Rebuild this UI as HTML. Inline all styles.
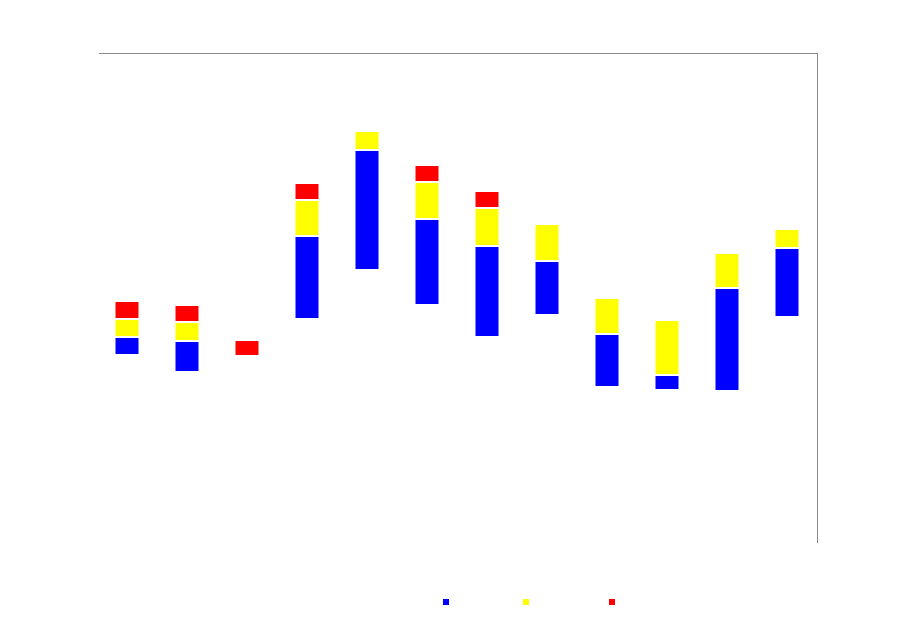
<!DOCTYPE html>
<html><head><meta charset="utf-8"><style>body{margin:0;background:#fff}svg{display:block}</style></head>
<body>
<svg id="c" width="911" height="623" xmlns="http://www.w3.org/2000/svg">
<line x1="99" y1="53.5" x2="817.5" y2="53.5" stroke="#888" stroke-width="1"/>
<line x1="817.5" y1="53" x2="817.5" y2="543" stroke="#888" stroke-width="1"/>
<g id="bars"></g>
<g>
<rect x="443" y="599" width="6" height="6" fill="#0000ff"/>
<rect x="523" y="599" width="6" height="6" fill="#ffff00"/>
<rect x="609" y="599" width="6" height="6" fill="#ff0000"/>
</g>
</svg>
<script>
const categories = ["1","2","3","4","5","6","7","8","9","10","11","12"];
const baseVals = [188,171,187,224,273,238,206,228,156,153,152,226];
const blueVals = [18,31,0,83,120,86,91,54,53,15,103,69];
const yellowVals = [18,19,0,36,19,37,38,37,36,55,35,19];
const redVals = [18,17,16,17,0,17,17,0,0,0,0,0];
const g = document.getElementById('bars');
const y = v => 543 - v;
const x = i => 127 + i * 60;
const bw = 23;
const series = [[blueVals,'#0000ff','blue'],[yellowVals,'#ffff00','yellow'],[redVals,'#ff0000','red']];
categories.forEach((c,i)=>{
  let acc = baseVals[i];
  series.forEach(([arr,col,nm])=>{
    const v = arr[i];
    if (v > 0) {
      const r = document.createElementNS('http://www.w3.org/2000/svg','rect');
      
      
      r.setAttribute('x', x(i) - bw/2);
      r.setAttribute('y', y(acc + v) + 1);
      r.setAttribute('width', bw);
      r.setAttribute('height', Math.max(0, v - 2));
      r.setAttribute('fill', col);
      g.appendChild(r);
    }
    acc += v;
  });
});
</script>
</body></html>
